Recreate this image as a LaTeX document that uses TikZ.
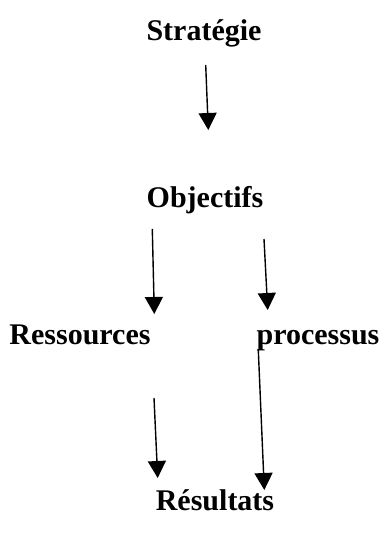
\documentclass[tikz,border=0pt]{standalone}
\usepackage{fontspec}
\setmainfont{Liberation Serif}
\usetikzlibrary{arrows.meta}
\begin{document}
\begin{tikzpicture}[x=1pt,y=-1pt,
  lbl/.style={font=\fontsize{30}{33}\selectfont\bfseries, anchor=base, inner sep=0pt},
  arr/.style={line width=1.4pt, -{Triangle[width=18pt,length=17pt]}}]
\useasboundingbox (0,0) rectangle (385,541);
\node[lbl] (strat) at (204,40) {Stratégie};
\node[lbl] (obj) at (205,207) {Objectifs};
\node[lbl] (res) at (80,344) {Ressources};
\node[lbl] (proc) at (318,344) {processus};
\node[lbl] (resu) at (215,510) {Résultats};
\coordinate (a1s) at (205.7,65);  \coordinate (a1e) at (208.3,130);
\coordinate (a2s) at (152.3,229); \coordinate (a2e) at (154.3,314);
\coordinate (a3s) at (264,239);   \coordinate (a3e) at (267.7,310);
\coordinate (a4s) at (154,398);   \coordinate (a4e) at (157.7,478);
\coordinate (a5s) at (258.3,350); \coordinate (a5e) at (264.3,490);
\draw[arr] (a1s) -- (a1e);
\draw[arr] (a2s) -- (a2e);
\draw[arr] (a3s) -- (a3e);
\draw[arr] (a4s) -- (a4e);
\draw[arr] (a5s) -- (a5e);
\end{tikzpicture}
\end{document}
